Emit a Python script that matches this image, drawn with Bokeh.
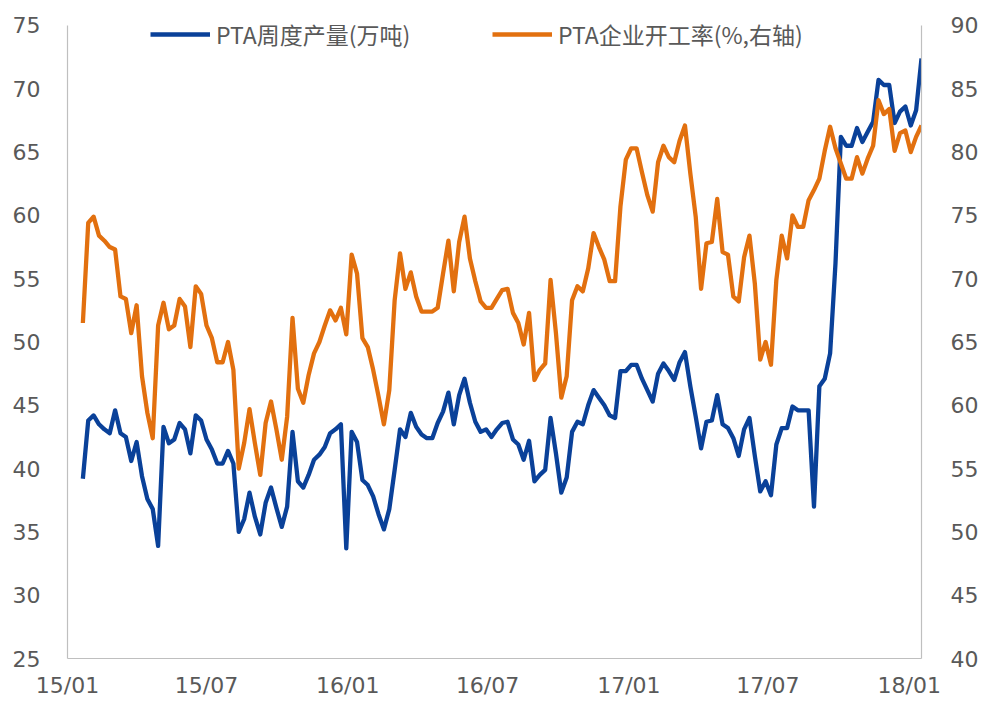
import pandas as pd
from bokeh.plotting import figure
from bokeh.models import (Range1d, LinearAxis, Legend, LegendItem,
                          DatetimeTickFormatter, FixedTicker)
from bokeh.embed import file_html
from bokeh.resources import INLINE

# ---- data (weekly) ----
start_date = "2015-01-21"
n_weeks = 157
dates = pd.date_range(start_date, periods=n_weeks, freq="7D")

pta_output = [
    39.2, 43.8, 44.2, 43.5, 43.1, 42.8, 44.6, 42.8, 42.5, 40.6,
    42.1, 39.4, 37.6, 36.8, 33.9, 43.3, 42.0, 42.3, 43.6, 43.1,
    41.2, 44.2, 43.8, 42.3, 41.5, 40.4, 40.4, 41.4, 40.4, 35.0,
    36.0, 38.1, 36.2, 34.8, 37.3, 38.5, 36.9, 35.4, 37.0, 42.9,
    39.0, 38.5, 39.5, 40.7, 41.1, 41.7, 42.8, 43.1, 43.5, 33.7,
    42.9, 42.1, 39.1, 38.7, 37.8, 36.4, 35.2, 36.8, 39.9, 43.1,
    42.5, 44.4, 43.3, 42.7, 42.4, 42.4, 43.6, 44.5, 46.0, 43.5,
    45.8, 47.1, 45.2, 43.7, 42.9, 43.1, 42.5, 43.1, 43.6, 43.7,
    42.3, 41.9, 40.7, 42.2, 39.0, 39.5, 39.9, 44.0, 41.2, 38.1,
    39.3, 42.9, 43.7, 43.5, 45.0, 46.2, 45.6, 45.0, 44.2, 44.0,
    47.7, 47.7, 48.2, 48.2, 47.1, 46.2, 45.3, 47.5, 48.3, 47.7,
    47.0, 48.4, 49.2, 46.5, 44.1, 41.6, 43.7, 43.8, 45.8, 43.5,
    43.2, 42.4, 41.0, 43.1, 44.0, 41.0, 38.2, 39.0, 37.9, 41.9,
    43.2, 43.2, 44.9, 44.6, 44.6, 44.6, 37.0, 46.5, 47.1, 49.1,
    56.2, 66.2, 65.5, 65.5, 66.9, 65.8, 66.6, 67.4, 70.7, 70.3,
    70.3, 67.3, 68.2, 68.6, 67.1, 68.3, 72.4,
]

pta_rate = [
    66.5, 74.4, 74.9, 73.4, 73.0, 72.5, 72.3, 68.6, 68.4, 65.7,
    67.9, 62.3, 59.4, 57.4, 66.3, 68.1, 66.0, 66.3, 68.4, 67.8,
    64.6, 69.4, 68.8, 66.3, 65.3, 63.4, 63.4, 65.0, 62.8, 55.0,
    57.0, 59.7, 57.0, 54.5, 58.6, 60.3, 58.1, 55.7, 59.1, 66.9,
    61.3, 60.2, 62.4, 64.1, 65.0, 66.3, 67.5, 66.7, 67.7, 65.6,
    71.9, 70.4, 65.3, 64.6, 62.8, 60.7, 58.5, 61.2, 68.3, 72.0,
    69.2, 70.5, 68.6, 67.4, 67.4, 67.4, 67.7, 70.4, 73.0, 69.0,
    72.9, 74.9, 71.6, 69.8, 68.2, 67.7, 67.7, 68.4, 69.1, 69.2,
    67.3, 66.5, 64.8, 67.3, 62.0, 62.8, 63.3, 69.9, 65.7, 60.6,
    62.3, 68.3, 69.4, 69.0, 70.8, 73.6, 72.5, 71.5, 69.8, 69.8,
    75.7, 79.4, 80.3, 80.3, 78.4, 76.6, 75.3, 79.2, 80.5, 79.6,
    79.2, 80.9, 82.1, 78.3, 74.9, 69.2, 72.8, 72.9, 76.3, 72.1,
    71.9, 68.6, 68.2, 71.7, 73.4, 69.6, 63.6, 65.0, 63.2, 69.9,
    73.4, 71.6, 75.0, 74.1, 74.1, 76.2, 77.0, 77.9, 80.1, 82.0,
    80.3, 79.1, 77.9, 77.9, 79.6, 78.3, 79.5, 80.5, 84.1, 83.0,
    83.4, 80.1, 81.5, 81.7, 80.0, 81.2, 82.1,
]

series_names = ["PTA周度产量(万吨)", "PTA企业开工率(%,右轴)"]
tick_dates = ["2015-01-01", "2015-07-01", "2016-01-01", "2016-07-01",
              "2017-01-01", "2017-07-01", "2018-01-01"]
tick_labels = ["15/01", "15/07", "16/01", "16/07", "17/01", "17/07", "18/01"]
left_ticks = [25, 30, 35, 40, 45, 50, 55, 60, 65, 70, 75]
right_ticks = [40, 45, 50, 55, 60, 65, 70, 75, 80, 85, 90]

BLUE = "#0A4199"
ORANGE = "#E2700F"
GRAY_TXT = "#595959"
AXIS_GRAY = "#BFBFBF"

# layout (pixels)
W, H = 982, 700
FR_L, FR_R, FR_B = 67, 921, 659
AX_TOP = 25          # pixel where the axis maxima sit
FR_T = 13            # frame top (room for legend)
px_per_unit = (FR_B - AX_TOP) / (left_ticks[-1] - left_ticks[0])
pad_units = (AX_TOP - FR_T) / px_per_unit

p = figure(width=W, height=H, x_axis_type="datetime",
           x_range=Range1d(pd.Timestamp("2015-01-01"), dates[-1]),
           y_range=Range1d(left_ticks[0], left_ticks[-1] + pad_units),
           output_backend="svg", toolbar_location=None,
           min_border_left=FR_L, min_border_right=W - FR_R,
           min_border_top=FR_T, min_border_bottom=H - FR_B)
p.outline_line_color = None
p.xgrid.grid_line_color = None
p.ygrid.grid_line_color = None
p.background_fill_color = "white"
p.border_fill_color = "white"

p.extra_y_ranges = {"r": Range1d(right_ticks[0], right_ticks[-1] + pad_units)}

r1 = p.line(dates, pta_output, line_color=BLUE, line_width=4.3, line_join="round")
r2 = p.line(dates, pta_rate, line_color=ORANGE, line_width=4.3, line_join="round",
            y_range_name="r")

right_axis = LinearAxis(y_range_name="r")
p.add_layout(right_axis, "right")

tick_ms = [pd.Timestamp(d).value / 1e6 for d in tick_dates]
xa = p.xaxis[0]
xa.ticker = FixedTicker(ticks=tick_ms)
xa.formatter = DatetimeTickFormatter(days="%y/%m", months="%y/%m", years="%y/%m")
xa.major_label_overrides = {int(t): lab for t, lab in zip(tick_ms, tick_labels)}
xa.major_label_standoff = 14

la = p.yaxis[0]
la.ticker = FixedTicker(ticks=left_ticks)
la.bounds = (left_ticks[0], left_ticks[-1])
la.major_label_standoff = 27
right_axis.ticker = FixedTicker(ticks=right_ticks)
right_axis.bounds = (right_ticks[0], right_ticks[-1])
right_axis.major_label_standoff = 29

for ax in [xa, la, right_axis]:
    ax.axis_line_color = AXIS_GRAY
    ax.axis_line_width = 1.2
    ax.major_tick_line_color = None
    ax.minor_tick_line_color = None
    ax.major_tick_out = 0
    ax.major_tick_in = 0
    ax.major_label_text_font = "DejaVu Sans"
    ax.major_label_text_font_size = "22px"
    ax.major_label_text_color = GRAY_TXT

def make_legend(label, renderer, x):
    lg = Legend(items=[LegendItem(label=label, renderers=[renderer])],
                location=(x, 607), orientation="horizontal",
                glyph_width=60, glyph_height=20, label_standoff=6,
                padding=0, margin=0, spacing=0,
                border_line_color=None, background_fill_alpha=0,
                label_text_font="Noto Sans CJK SC", label_text_font_size="23px",
                label_text_color=GRAY_TXT)
    p.add_layout(lg)

make_legend(series_names[0], r1, 83)
make_legend(series_names[1], r2, 425)

open("out.html", "w").write(file_html(p, INLINE))
